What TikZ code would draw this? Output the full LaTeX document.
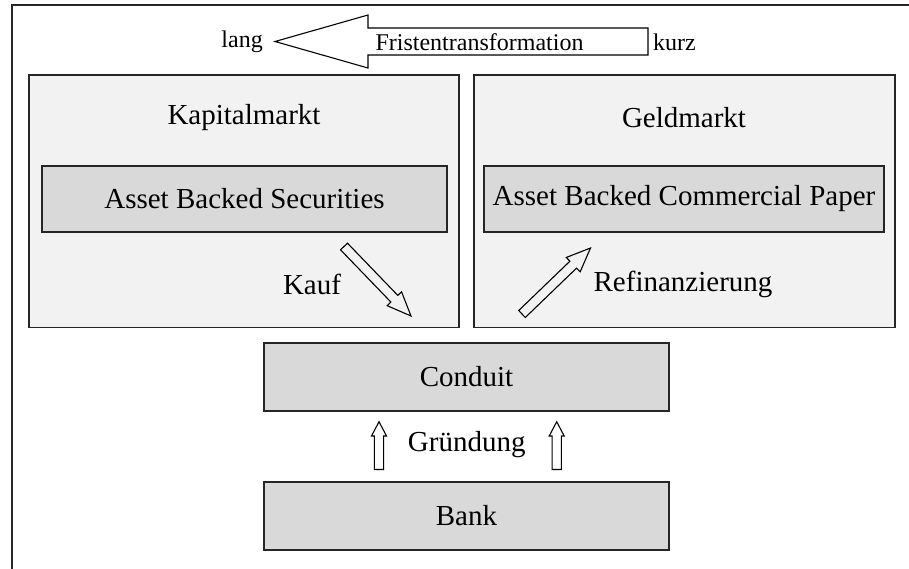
\documentclass[tikz,border=0pt]{standalone}
\usepackage{fontspec}
\setmainfont{Liberation Serif}
\usetikzlibrary{calc}

\definecolor{outerfill}{HTML}{F2F2F2}
\definecolor{innerfill}{HTML}{D9D9D9}

% hollow block arrow: #1 tail, #2 tip, #3 half shaft width, #4 half head width, #5 head length
\newcommand\blockarrow[5]{%
  \draw[hollow]
    ($(#1)!#3!90:(#2)$)
    -- ($(#2)!#5!(#1)!#3!-90:(#1)$)
    -- ($(#2)!#5!(#1)!#4!-90:(#1)$)
    -- (#2)
    -- ($(#2)!#5!(#1)!#4!90:(#1)$)
    -- ($(#2)!#5!(#1)!#3!90:(#1)$)
    -- ($(#1)!#3!-90:(#2)$)
    -- cycle;}

\tikzset{
  bigtext/.style={font=\fontsize{29}{34}\selectfont, inner sep=0pt},
  smalltext/.style={font=\fontsize{24}{28}\selectfont, inner sep=0pt},
  market/.style={draw=black!85, line width=1.6pt, fill=outerfill, inner sep=0pt},
  item/.style={draw=black!85, line width=1.6pt, fill=innerfill, inner sep=0pt,
    font=\fontsize{29}{34}\selectfont},
  hollow/.style={draw=black, line width=1.1pt, line join=miter},
}

\begin{document}
\begin{tikzpicture}[x=1pt, y=-1pt]
  \useasboundingbox (0,0) rectangle (909,568);
  \clip (0,0) rectangle (909,568);

  % outer frame, running off the right and bottom edges
  \draw[line width=2.2pt, black!85] (12.3,580) -- (12.3,5) -- (920,5);

  % markets
  \node[market, minimum width=430pt, minimum height=252.5pt] (kap) at (243.9,201.4) {};
  \node[market, minimum width=421pt, minimum height=252.5pt] (geld) at (684.5,201.4) {};
  \node[bigtext] (kaptitle) at (244,118) {Kapitalmarkt};
  \node[bigtext] (geldtitle) at (684,118) {Geldmarkt};

  \node[item, minimum width=405pt, minimum height=66pt] (abs) at (244.5,199) {Asset Backed Securities};
  \node[item, minimum width=400pt, minimum height=66pt] (abcp) at (684,199) {Asset Backed Commercial Paper};

  % conduit and bank
  \node[item, minimum width=405pt, minimum height=67.5pt] (conduit) at (466.5,377) {Conduit};
  \node[item, minimum width=405pt, minimum height=68pt] (bank) at (466.5,515.8) {Bank};

  % maturity transformation arrow
  \coordinate (ftail) at (648,41.5);
  \coordinate (ftip) at (275,41.5);
  \blockarrow{ftail}{ftip}{13.5pt}{26.5pt}{93pt}
  \node[smalltext] (frist) at (479.5,42) {Fristentransformation};
  \node[smalltext, anchor=east] (lang) at (263,42) {lang};
  \node[smalltext, anchor=west] (kurz) at (653,42) {kurz};

  % purchase and refinancing
  \coordinate (ktail) at (344,246.5);
  \coordinate (ktip) at (411,316);
  \blockarrow{ktail}{ktip}{4.8pt}{10pt}{24pt}
  \node[bigtext] (kauf) at (312,284) {Kauf};

  \coordinate (rtail) at (522,314);
  \coordinate (rtip) at (590.5,248);
  \blockarrow{rtail}{rtip}{4.8pt}{10pt}{24pt}
  \node[bigtext] (refi) at (683,284) {Refinanzierung};

  % foundation
  \coordinate (g1tail) at (379,469.5);
  \coordinate (g1tip) at (379,421.7);
  \blockarrow{g1tail}{g1tip}{4.6pt}{7.5pt}{14.3pt}
  \coordinate (g2tail) at (556.7,469.5);
  \coordinate (g2tip) at (556.7,421.7);
  \blockarrow{g2tail}{g2tip}{4.6pt}{7.5pt}{14.3pt}
  \node[bigtext] (gruendung) at (466.7,445) {Gründung};
\end{tikzpicture}
\end{document}
